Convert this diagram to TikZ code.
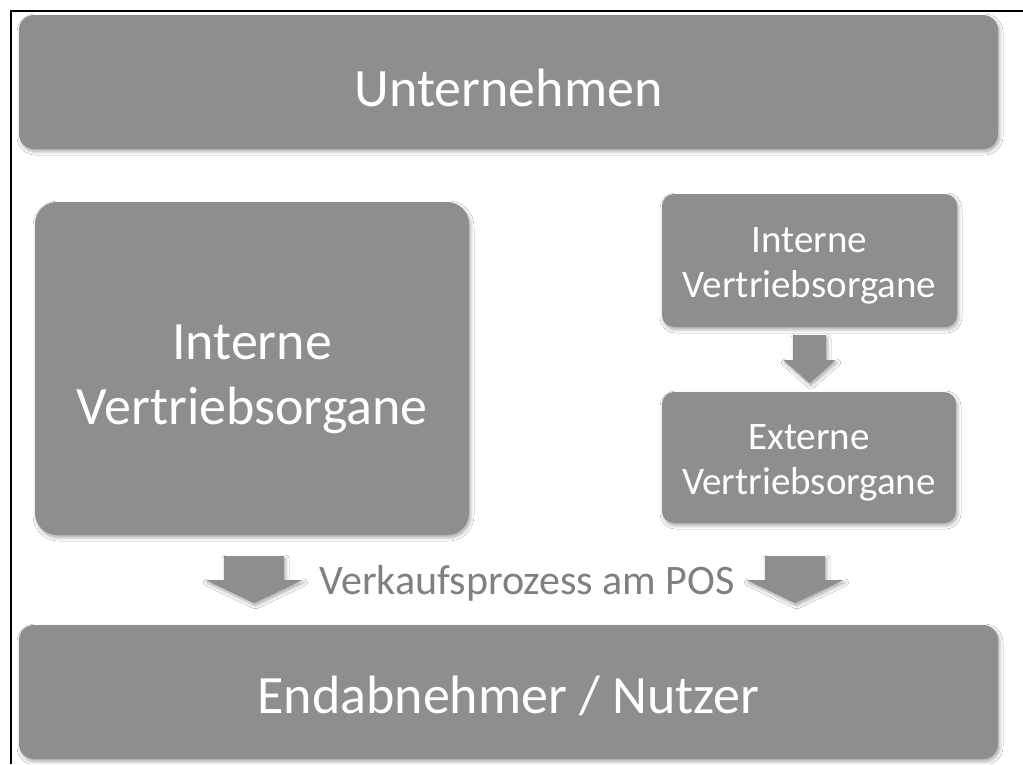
\documentclass[tikz,border=0pt]{standalone}
\usepackage{fontspec}
\setmainfont{Carlito}
\usetikzlibrary{shadows.blur,calc}
\definecolor{boxgray}{HTML}{8E8E8E}
\definecolor{labelgray}{HTML}{808080}
\newcommand\shiftdown[2]{\raisebox{-#1}[\height][\depth]{#2}}
\newcommand\twolines[2]{\begin{tabular}{@{}c@{}}#1\\#2\end{tabular}}
\tikzset{
  x=1pt, y=-1pt,
  softshadow/.style={blur shadow={shadow xshift=1.5pt, shadow yshift=-2.5pt, shadow blur steps=7, shadow blur radius=3.5pt, shadow opacity=35}},
  graybox/.style={fill=boxgray, draw=none, text=white, align=center, inner sep=0pt, softshadow},
  bigfont/.style={font=\fontsize{54}{65}\selectfont},
  smallfont/.style={font=\fontsize{39}{45}\selectfont},
  blockarrow/.style={fill=boxgray, draw=none, softshadow},
  frameline/.style={draw=black, line width=1.3pt}
}
\begin{document}
\begin{tikzpicture}
\useasboundingbox (0,0) rectangle (1023,764);
\fill[white] (0,0) rectangle (1023,764);
% frame (top and left visible)
\draw[frameline] (1023,11) -- (11,11) -- (11,764);

\node[graybox, bigfont, rounded corners=15pt, minimum width=979pt, minimum height=134pt] (top) at (508.5,82) {\shiftdown{6pt}{Unternehmen}};

\node[graybox, bigfont, rounded corners=22pt, minimum width=434pt, minimum height=333pt] (intbig) at (252,368.5) {\shiftdown{10pt}{\twolines{Interne}{Vertriebsorgane}}};

\node[graybox, smallfont, rounded corners=12pt, minimum width=295pt, minimum height=133pt] (intsmall) at (809.5,260.5) {\shiftdown{5pt}{\twolines{Interne}{Vertriebsorgane}}};

\node[graybox, smallfont, rounded corners=12pt, minimum width=294pt, minimum height=131pt] (ext) at (809,457.5) {\shiftdown{5pt}{\twolines{Externe}{Vertriebsorgane}}};

\node[graybox, bigfont, rounded corners=15pt, minimum width=979pt, minimum height=134pt] (end) at (508.5,692) {\shiftdown{4pt}{Endabnehmer / Nutzer}};

\node[text=labelgray, font=\fontsize{42}{50}\selectfont, anchor=base, inner sep=0pt] (pos) at (527,594) {Verkaufsprozess am POS};

% block arrows
\coordinate (ma) at ($(intsmall.south)+(0,8)$);
\path[blockarrow, shift={(ma)}] (-16.5,0) -- (16.5,0) -- (16.5,25) -- (26,25) -- (0,48) -- (-26,25) -- (-16.5,25) -- cycle;

\coordinate (la) at (254,556);
\path[blockarrow, shift={(la)}] (-30,0) -- (30,0) -- (30,24) -- (48.5,24) -- (0,47) -- (-48.5,24) -- (-30,24) -- cycle;

\coordinate (ra) at (795,556);
\path[blockarrow, shift={(ra)}] (-30,0) -- (30,0) -- (30,24) -- (48.5,24) -- (0,47) -- (-48.5,24) -- (-30,24) -- cycle;
\end{tikzpicture}
\end{document}
